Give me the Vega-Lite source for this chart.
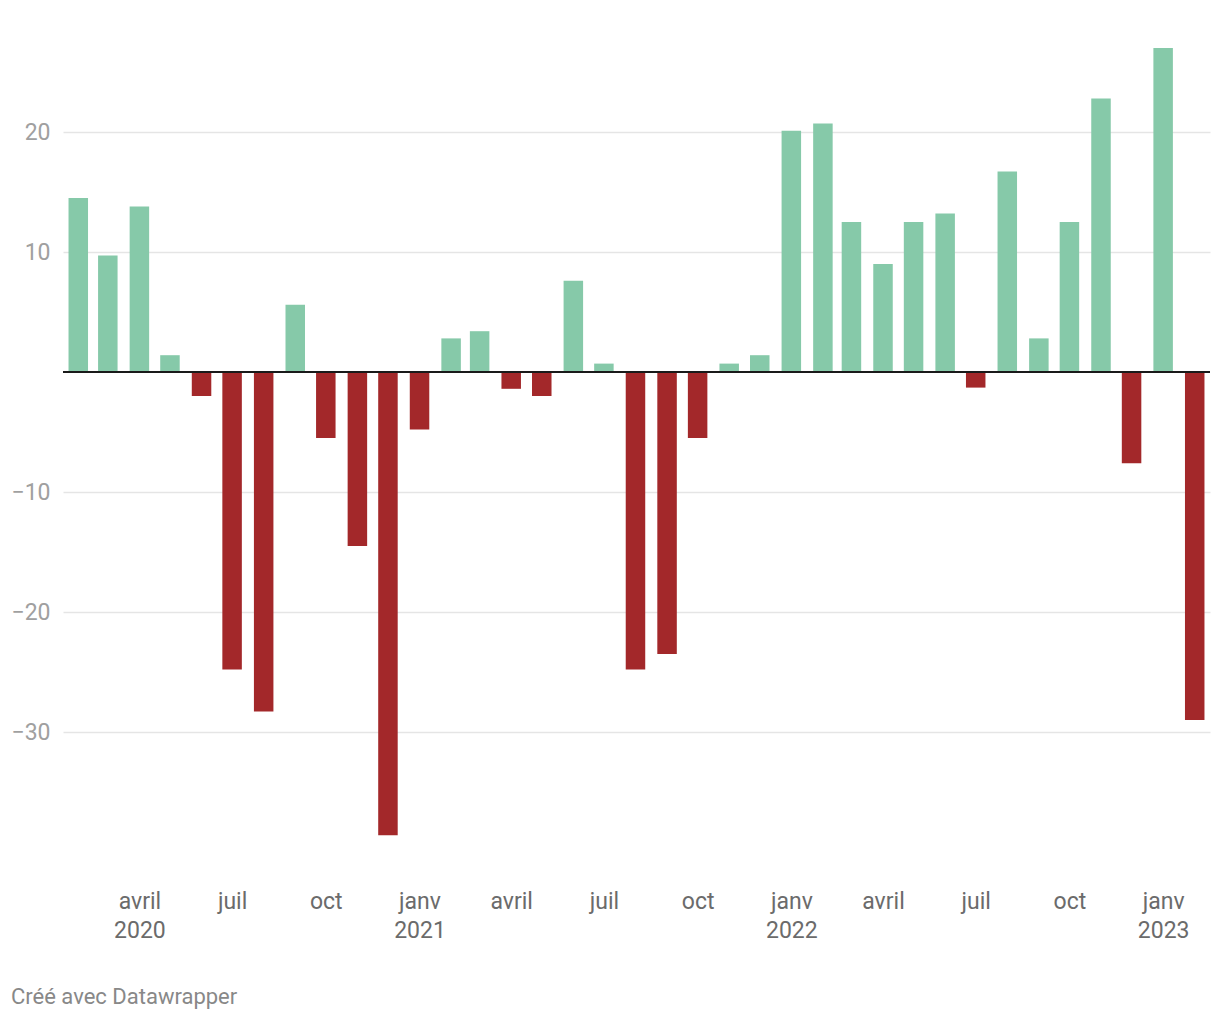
{
  "$schema": "https://vega.github.io/schema/vega-lite/v6.json",
  "width": 1147,
  "height": 804,
  "autosize": "none",
  "padding": {"left": 63, "top": 48, "right": 10, "bottom": 168},
  "background": "white",
  "config": {"view": {"stroke": null}, "font": "Roboto"},
  "title": {"text": "Créé avec Datawrapper", "orient": "bottom", "anchor": "start", "fontSize": 22, "fontWeight": "normal", "color": "#888888", "font": "Roboto", "offset": 45},
  "data": {"values": [
    {"date": "2020-02-01", "value": 14.5},
    {"date": "2020-03-01", "value": 9.7},
    {"date": "2020-04-01", "value": 13.8},
    {"date": "2020-05-01", "value": 1.4},
    {"date": "2020-06-01", "value": -2.0},
    {"date": "2020-07-01", "value": -24.8},
    {"date": "2020-08-01", "value": -28.3},
    {"date": "2020-09-01", "value": 5.6},
    {"date": "2020-10-01", "value": -5.5},
    {"date": "2020-11-01", "value": -14.5},
    {"date": "2020-12-01", "value": -38.6},
    {"date": "2021-01-01", "value": -4.8},
    {"date": "2021-02-01", "value": 2.8},
    {"date": "2021-03-01", "value": 3.4},
    {"date": "2021-04-01", "value": -1.4},
    {"date": "2021-05-01", "value": -2.0},
    {"date": "2021-06-01", "value": 7.6},
    {"date": "2021-07-01", "value": 0.7},
    {"date": "2021-08-01", "value": -24.8},
    {"date": "2021-09-01", "value": -23.5},
    {"date": "2021-10-01", "value": -5.5},
    {"date": "2021-11-01", "value": 0.7},
    {"date": "2021-12-01", "value": 1.4},
    {"date": "2022-01-01", "value": 20.1},
    {"date": "2022-02-01", "value": 20.7},
    {"date": "2022-03-01", "value": 12.5},
    {"date": "2022-04-01", "value": 9.0},
    {"date": "2022-05-01", "value": 12.5},
    {"date": "2022-06-01", "value": 13.2},
    {"date": "2022-07-01", "value": -1.3},
    {"date": "2022-08-01", "value": 16.7},
    {"date": "2022-09-01", "value": 2.8},
    {"date": "2022-10-01", "value": 12.5},
    {"date": "2022-11-01", "value": 22.8},
    {"date": "2022-12-01", "value": -7.6},
    {"date": "2023-01-01", "value": 27.0},
    {"date": "2023-02-01", "value": -29.0}
  ]},
  "layer": [
    {
      "mark": {"type": "bar", "size": 19.5},
      "encoding": {
        "x": {
          "field": "date",
          "type": "temporal",
          "scale": {"type": "utc", "padding": 0, "domain": [{"year": 2020, "month": 1, "date": 17, "utc": true}, {"year": 2023, "month": 2, "date": 16, "utc": true}]},
          "axis": {
            "title": null,
            "domain": false,
            "ticks": false,
            "grid": false,
            "tickCount": {"interval": "month", "step": 3},
            "labelExpr": "[['janv','','','avril','','','juil','','','oct','',''][utcmonth(datum.value)], (utcmonth(datum.value)==0 || (utcyear(datum.value)==2020 && utcmonth(datum.value)==3)) ? '' + utcyear(datum.value) : '']",
            "labelFontSize": 23,
            "labelFont": "Roboto",
            "labelColor": "#6b6b6b",
            "labelPadding": 38,
            "labelBaseline": "top",
            "labelLineHeight": 29,
            "labelOverlap": false,
            "labelFlush": false
          }
        },
        "y": {
          "field": "value",
          "type": "quantitative",
          "scale": {"domain": [-40, 27], "nice": false, "zero": false},
          "axis": {
            "title": null,
            "values": [-30, -20, -10, 10, 20],
            "grid": true,
            "gridColor": "#e5e5e5",
            "gridWidth": 1.5,
            "domain": false,
            "ticks": false,
            "labelFontSize": 23,
            "labelFont": "Roboto",
            "labelColor": "#a0a0a0",
            "labelPadding": 13
          }
        },
        "color": {"condition": {"test": "datum.value >= 0", "value": "#86c9a9"}, "value": "#a3282a"}
      }
    },
    {
      "mark": {"type": "rule", "color": "#1a1a1a", "strokeWidth": 2},
      "encoding": {"y": {"datum": 0}}
    }
  ]
}
